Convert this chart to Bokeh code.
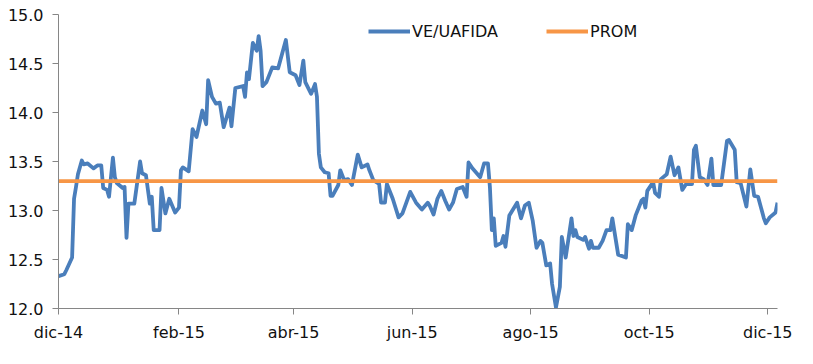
import pandas as pd
from bokeh.plotting import figure
from bokeh.models import (FixedTicker, Range1d, Legend, LegendItem,
                          ColumnDataSource, CustomJSTickFormatter, PrintfTickFormatter)
from bokeh.embed import file_html
from bokeh.resources import INLINE

# ---- data ----
dates = [
    "2014-12-01", "2014-12-04", "2014-12-05", "2014-12-08", "2014-12-09", "2014-12-10",
    "2014-12-11", "2014-12-13", "2014-12-14", "2014-12-16", "2014-12-19", "2014-12-21",
    "2014-12-23", "2014-12-24", "2014-12-26", "2014-12-27", "2014-12-29", "2014-12-30",
    "2014-12-31", "2015-01-03", "2015-01-04", "2015-01-05", "2015-01-06", "2015-01-09",
    "2015-01-12", "2015-01-13", "2015-01-15", "2015-01-17", "2015-01-18", "2015-01-19",
    "2015-01-22", "2015-01-23", "2015-01-25", "2015-01-27", "2015-01-30", "2015-02-01",
    "2015-02-02", "2015-02-03", "2015-02-06", "2015-02-08", "2015-02-10", "2015-02-13",
    "2015-02-15", "2015-02-16", "2015-02-18", "2015-02-20", "2015-02-22", "2015-02-24",
    "2015-02-27", "2015-02-28", "2015-03-02", "2015-03-06", "2015-03-07", "2015-03-08",
    "2015-03-09", "2015-03-11", "2015-03-13", "2015-03-14", "2015-03-15", "2015-03-16",
    "2015-03-18", "2015-03-21", "2015-03-24", "2015-03-28", "2015-03-30", "2015-04-02",
    "2015-04-04", "2015-04-06", "2015-04-07", "2015-04-10", "2015-04-12", "2015-04-13",
    "2015-04-14", "2015-04-15", "2015-04-17", "2015-04-19", "2015-04-20", "2015-04-21",
    "2015-04-24", "2015-04-25", "2015-04-27", "2015-04-29", "2015-05-01", "2015-05-04",
    "2015-05-06", "2015-05-09", "2015-05-10", "2015-05-12", "2015-05-15", "2015-05-16",
    "2015-05-18", "2015-05-19", "2015-05-22", "2015-05-25", "2015-05-27", "2015-05-31",
    "2015-06-03", "2015-06-06", "2015-06-09", "2015-06-10", "2015-06-12", "2015-06-14",
    "2015-06-16", "2015-06-18", "2015-06-20", "2015-06-22", "2015-06-24", "2015-06-27",
    "2015-06-29", "2015-06-30", "2015-07-02", "2015-07-06", "2015-07-08", "2015-07-10",
    "2015-07-11", "2015-07-12", "2015-07-13", "2015-07-14", "2015-07-17", "2015-07-18",
    "2015-07-19", "2015-07-21", "2015-07-25", "2015-07-27", "2015-07-29", "2015-07-31",
    "2015-08-02", "2015-08-04", "2015-08-06", "2015-08-07", "2015-08-09", "2015-08-11",
    "2015-08-12", "2015-08-14", "2015-08-16", "2015-08-17", "2015-08-19", "2015-08-22",
    "2015-08-23", "2015-08-24", "2015-08-25", "2015-08-28", "2015-08-29", "2015-08-31",
    "2015-09-01", "2015-09-02", "2015-09-05", "2015-09-07", "2015-09-09", "2015-09-11",
    "2015-09-12", "2015-09-15", "2015-09-19", "2015-09-20", "2015-09-22", "2015-09-24",
    "2015-09-27", "2015-09-28", "2015-09-29", "2015-09-30", "2015-10-03", "2015-10-04",
    "2015-10-06", "2015-10-07", "2015-10-10", "2015-10-12", "2015-10-14", "2015-10-16",
    "2015-10-18", "2015-10-20", "2015-10-23", "2015-10-24", "2015-10-25", "2015-10-27",
    "2015-10-29", "2015-10-31", "2015-11-02", "2015-11-03", "2015-11-07", "2015-11-10",
    "2015-11-11", "2015-11-14", "2015-11-15", "2015-11-17", "2015-11-18", "2015-11-20",
    "2015-11-22", "2015-11-24", "2015-11-26", "2015-11-29", "2015-11-30", "2015-12-02",
    "2015-12-05", "2015-12-06",
]
ve_uafida = [
    12.33, 12.35, 12.39, 12.52, 13.12, 13.24,
    13.37, 13.51, 13.47, 13.48, 13.43, 13.46,
    13.46, 13.23, 13.21, 13.14, 13.54, 13.34,
    13.28, 13.23, 13.24, 12.72, 13.07, 13.07,
    13.50, 13.38, 13.36, 13.07, 13.14, 12.80,
    12.80, 13.23, 12.97, 13.12, 12.98, 13.03,
    13.41, 13.44, 13.40, 13.83, 13.75, 14.02,
    13.88, 14.33, 14.16, 14.09, 14.10, 13.85,
    14.05, 13.86, 14.25, 14.27, 14.16, 14.41,
    14.34, 14.71, 14.63, 14.78, 14.63, 14.27,
    14.31, 14.46, 14.45, 14.74, 14.41, 14.38,
    14.28, 14.53, 14.31, 14.19, 14.29, 14.16,
    13.58, 13.44, 13.39, 13.38, 13.15, 13.15,
    13.26, 13.41, 13.31, 13.32, 13.26, 13.57,
    13.44, 13.47, 13.41, 13.31, 13.27, 13.08,
    13.08, 13.27, 13.12, 12.93, 12.97, 13.19,
    13.08, 13.01, 13.08, 13.05, 12.96, 13.12,
    13.20, 13.10, 13.01, 13.08, 13.22, 13.24,
    13.14, 13.49, 13.43, 13.34, 13.48, 13.48,
    13.24, 12.80, 12.92, 12.64, 12.67, 12.74,
    12.63, 12.95, 13.08, 12.92, 13.05, 13.08,
    12.90, 12.62, 12.69, 12.67, 12.44, 12.46,
    12.25, 12.01, 12.22, 12.73, 12.52, 12.92,
    12.74, 12.80, 12.73, 12.70, 12.73, 12.61,
    12.69, 12.62, 12.62, 12.69, 12.80, 12.80,
    12.92, 12.55, 12.52, 12.86, 12.80, 12.95,
    13.10, 13.12, 13.03, 13.20, 13.29, 13.18,
    13.14, 13.32, 13.37, 13.55, 13.36, 13.44,
    13.21, 13.27, 13.27, 13.62, 13.66, 13.34,
    13.32, 13.26, 13.53, 13.26, 13.26, 13.71,
    13.72, 13.62, 13.29, 13.28, 13.20, 13.04,
    13.42, 13.15, 13.14, 12.92, 12.87, 12.93,
    12.98, 13.08,
]
prom = 13.30

series_names = ["VE/UAFIDA", "PROM"]
tick_dates = ["2014-12-01", "2015-02-01", "2015-04-01", "2015-06-01",
              "2015-08-01", "2015-10-01", "2015-12-01"]
tick_labels = ["dic-14", "feb-15", "abr-15", "jun-15", "ago-15", "oct-15", "dic-15"]
y_ticks = [12.0, 12.5, 13.0, 13.5, 14.0, 14.5, 15.0]
x_start, x_end = "2014-12-01", "2015-12-06"
y_start, y_end = 12.0, 15.0

# ---- build ----
x = pd.to_datetime(dates)
src = ColumnDataSource(dict(x=x, y=ve_uafida, prom=[prom] * len(ve_uafida)))

FONT = "DejaVu Sans"
BLUE = "#4a7ebb"
ORANGE = "#f79646"
AXIS = "#868686"
TEXT = "#111111"

p = figure(width=805, height=356, x_axis_type="datetime",
           output_backend="svg", toolbar_location=None,
           x_range=Range1d(pd.Timestamp(x_start), pd.Timestamp(x_end)),
           y_range=Range1d(y_start, y_end),
           min_border_left=58, min_border_right=28,
           min_border_top=14, min_border_bottom=48)
p.outline_line_color = None
p.xgrid.visible = False
p.ygrid.visible = False
p.background_fill_color = "white"
p.border_fill_color = "white"

r_ve = p.line("x", "y", source=src, line_color=BLUE, line_width=3.8, line_join="round")
r_pr = p.line("x", "prom", source=src, line_color=ORANGE, line_width=3.8)

tick_ms = [pd.Timestamp(d).value / 1e6 for d in tick_dates]
p.xaxis.ticker = FixedTicker(ticks=tick_ms)
p.xaxis.formatter = CustomJSTickFormatter(
    args=dict(tvals=tick_ms, tlabels=tick_labels),
    code="""
        for (let i = 0; i < tvals.length; i++) {
            if (Math.abs(tvals[i] - tick) < 1000) { return tlabels[i]; }
        }
        return "";
    """)
p.yaxis.ticker = FixedTicker(ticks=y_ticks)
p.yaxis.formatter = PrintfTickFormatter(format="%.1f")

for ax in (p.xaxis[0], p.yaxis[0]):
    ax.axis_line_color = AXIS
    ax.axis_line_width = 1
    ax.major_tick_line_color = AXIS
    ax.major_tick_in = 0
    ax.major_tick_out = 6
    ax.minor_tick_line_color = None
    ax.major_label_text_font = FONT
    ax.major_label_text_font_size = "16px"
    ax.major_label_text_color = TEXT
p.xaxis.major_label_standoff = 8
p.yaxis.major_label_standoff = 9

legend = Legend(items=[LegendItem(label=series_names[0], renderers=[r_ve]),
                       LegendItem(label=series_names[1], renderers=[r_pr])],
                orientation="horizontal", location=(310, 267),
                padding=0, margin=0, spacing=48, label_standoff=2,
                glyph_width=42, glyph_height=20, label_height=20,
                border_line_color=None, background_fill_alpha=0,
                label_text_font=FONT, label_text_font_size="16px",
                label_text_color=TEXT)
p.add_layout(legend)

open("out.html", "w").write(file_html(p, INLINE))
